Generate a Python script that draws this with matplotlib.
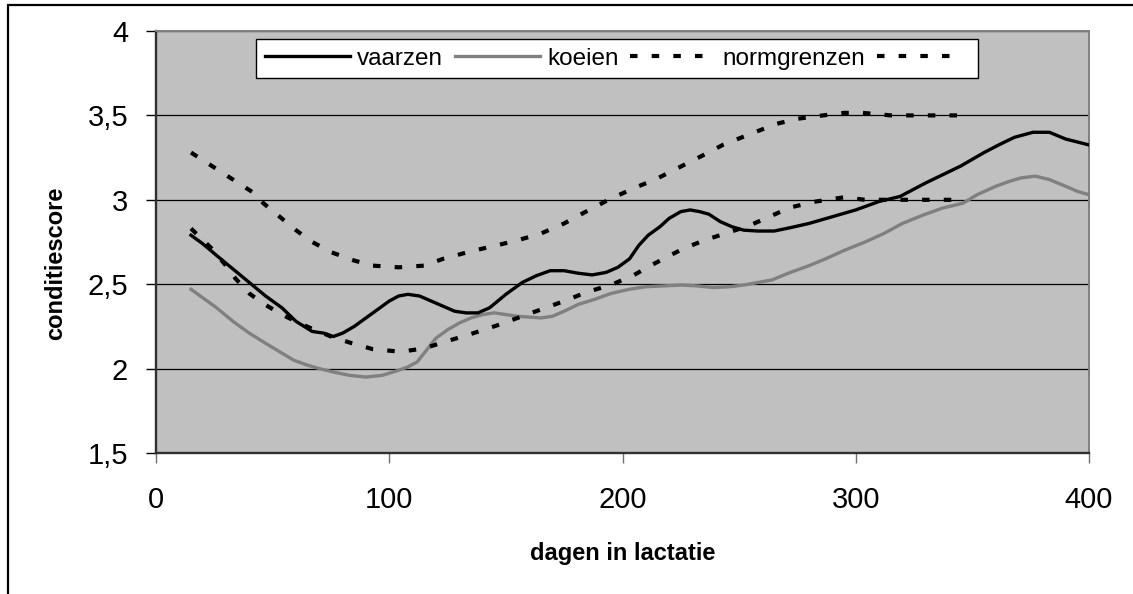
import matplotlib.pyplot as plt
from matplotlib.patches import Rectangle
from matplotlib.ticker import FuncFormatter

plt.rcParams['font.family'] = ['Liberation Sans', 'DejaVu Sans']

# vaarzen (black solid)
vaarzen_dag = [15, 20, 26, 33, 40, 47, 54, 60, 67, 72, 76, 80, 85, 90, 95, 100, 104, 108,
               113, 118, 123, 128, 133, 138, 143, 150, 157, 163, 169, 175, 181, 187, 193,
               198, 203, 207, 211, 216, 220, 225, 229, 233, 237, 242, 247, 252, 258, 265,
               272, 280, 290, 300, 310, 319, 330, 345, 355, 362, 368, 376, 383, 390, 400]
vaarzen_score = [2.79, 2.74, 2.67, 2.59, 2.51, 2.43, 2.36, 2.28, 2.22, 2.21, 2.19, 2.21, 2.25,
                 2.30, 2.35, 2.40, 2.43, 2.44, 2.43, 2.40, 2.37, 2.34, 2.33, 2.33, 2.36, 2.44,
                 2.51, 2.55, 2.58, 2.58, 2.565, 2.555, 2.57, 2.60, 2.65, 2.73, 2.79, 2.84,
                 2.89, 2.93, 2.94, 2.93, 2.915, 2.87, 2.84, 2.82, 2.815, 2.815, 2.835, 2.86,
                 2.90, 2.94, 2.99, 3.02, 3.10, 3.20, 3.28, 3.33, 3.37, 3.40, 3.40, 3.36, 3.325]

# koeien (grey solid)
koeien_dag = [15, 20, 26, 33, 40, 47, 53, 59, 65, 70, 76, 83, 90, 97, 104, 108, 112, 116,
              120, 125, 130, 135, 140, 145, 150, 155, 160, 165, 170, 175, 181, 188, 195,
              203, 210, 218, 225, 232, 239, 246, 252, 258, 264, 272, 280, 287, 295, 304,
              312, 320, 329, 337, 346, 352, 360, 366, 371, 377, 383, 390, 395, 400]
koeien_score = [2.47, 2.42, 2.36, 2.28, 2.21, 2.15, 2.10, 2.05, 2.02, 2.00, 1.98, 1.96, 1.95,
                1.96, 1.99, 2.01, 2.04, 2.11, 2.18, 2.23, 2.27, 2.30, 2.32, 2.33, 2.32, 2.31,
                2.305, 2.30, 2.31, 2.34, 2.38, 2.41, 2.445, 2.47, 2.485, 2.49, 2.495, 2.49,
                2.48, 2.485, 2.495, 2.51, 2.525, 2.57, 2.61, 2.65, 2.70, 2.75, 2.80, 2.86,
                2.91, 2.95, 2.98, 3.03, 3.08, 3.11, 3.13, 3.14, 3.12, 3.08, 3.05, 3.03]

# normgrenzen (dashed) - lower and upper limit
onder_dag = [15, 24, 30, 34, 40, 46, 54, 62, 75, 84, 93, 105, 115, 123, 135, 146, 155, 165,
             176, 185, 195, 205, 212, 221, 226, 235, 244, 254, 263, 272, 283, 295, 304, 313,
             327, 337, 346]
onder_score = [2.83, 2.71, 2.61, 2.535, 2.445, 2.385, 2.32, 2.265, 2.19, 2.15, 2.115, 2.10,
               2.12, 2.155, 2.205, 2.255, 2.30, 2.35, 2.405, 2.455, 2.495, 2.555, 2.61, 2.675,
               2.71, 2.76, 2.80, 2.845, 2.90, 2.955, 2.99, 3.015, 3.00, 3.00, 3.00, 3.00, 3.00]
boven_dag = [15, 24, 33, 42, 46, 53, 60, 67, 75, 85, 93, 104, 115, 123, 135, 146, 155, 165,
             175, 183, 194, 205, 214, 224, 234, 243, 253, 266, 275, 286, 295, 303, 315, 326,
             336, 346]
boven_score = [3.28, 3.20, 3.12, 3.04, 2.98, 2.90, 2.82, 2.75, 2.69, 2.64, 2.61, 2.60, 2.61,
               2.65, 2.695, 2.73, 2.76, 2.80, 2.86, 2.92, 3.00, 3.07, 3.12, 3.19, 3.26, 3.325,
               3.38, 3.45, 3.48, 3.50, 3.515, 3.515, 3.50, 3.50, 3.50, 3.50]

W, H = 1133, 594
fig = plt.figure(figsize=(W / 100, H / 100), dpi=100)
fig.patch.set_facecolor('white')
ax = fig.add_axes([156 / W, 1 - 453 / H, (1089 - 156) / W, (453 - 31) / H])
ax.set_facecolor('#c0c0c0')

# outer frame (right and bottom edges fall outside the picture)
fig.patches.append(Rectangle((8 / W, -0.1), 1.2, 1 - 5 / H + 0.1, transform=fig.transFigure,
                             fill=False, edgecolor='black', linewidth=1.6))

dash = (0, (1.8, 3.4))
l1, = ax.plot(vaarzen_dag, vaarzen_score, color='black', lw=2.4, zorder=4)
l2, = ax.plot(koeien_dag, koeien_score, color='#808080', lw=2.4, zorder=3)
l3, = ax.plot(onder_dag, onder_score, color='black', lw=3.0, linestyle=dash, zorder=5)
l4, = ax.plot(boven_dag, boven_score, color='black', lw=3.0, linestyle=dash, zorder=5)

ax.set_xlim(0, 400)
ax.set_ylim(1.5, 4)
ax.set_xticks([0, 100, 200, 300, 400])
ax.set_yticks([1.5, 2, 2.5, 3, 3.5, 4])
ax.yaxis.set_major_formatter(FuncFormatter(lambda v, p: f"{v:g}".replace('.', ',')))
ax.grid(axis='y', color='black', linewidth=0.9)
ax.set_axisbelow(True)

ax.tick_params(axis='y', length=7, width=1, color='black', pad=13, labelsize=21)
ax.tick_params(axis='x', length=7, width=1, color='#707070', pad=17, labelsize=21)
for s in ['left', 'bottom']:
    ax.spines[s].set_color('#303030')
    ax.spines[s].set_linewidth(1.7)
for s in ['top', 'right']:
    ax.spines[s].set_color('#808080')
    ax.spines[s].set_linewidth(1.4)

ax.set_xlabel('dagen in lactatie', fontsize=17, fontweight='bold')
ax.set_ylabel('conditiescore', fontsize=17, fontweight='bold')
ax.xaxis.set_label_coords(0.5, -0.212)
ax.yaxis.set_label_coords(-0.095, 0.45)

leg = ax.legend([l1, l2, l3, l4], ['vaarzen', 'koeien', 'normgrenzen', ''],
                ncol=4, loc='upper left', bbox_to_anchor=(256 / W, 1 - 39 / H),
                bbox_transform=fig.transFigure, borderaxespad=0, fontsize=17.5,
                handlelength=3.5, handletextpad=0.3, columnspacing=0.48,
                frameon=True, fancybox=False, edgecolor='black', framealpha=1,
                borderpad=0.35)
leg.get_frame().set_linewidth(1.0)
leg.set_zorder(10)

fig.savefig('out.png', dpi=100, facecolor='white')
